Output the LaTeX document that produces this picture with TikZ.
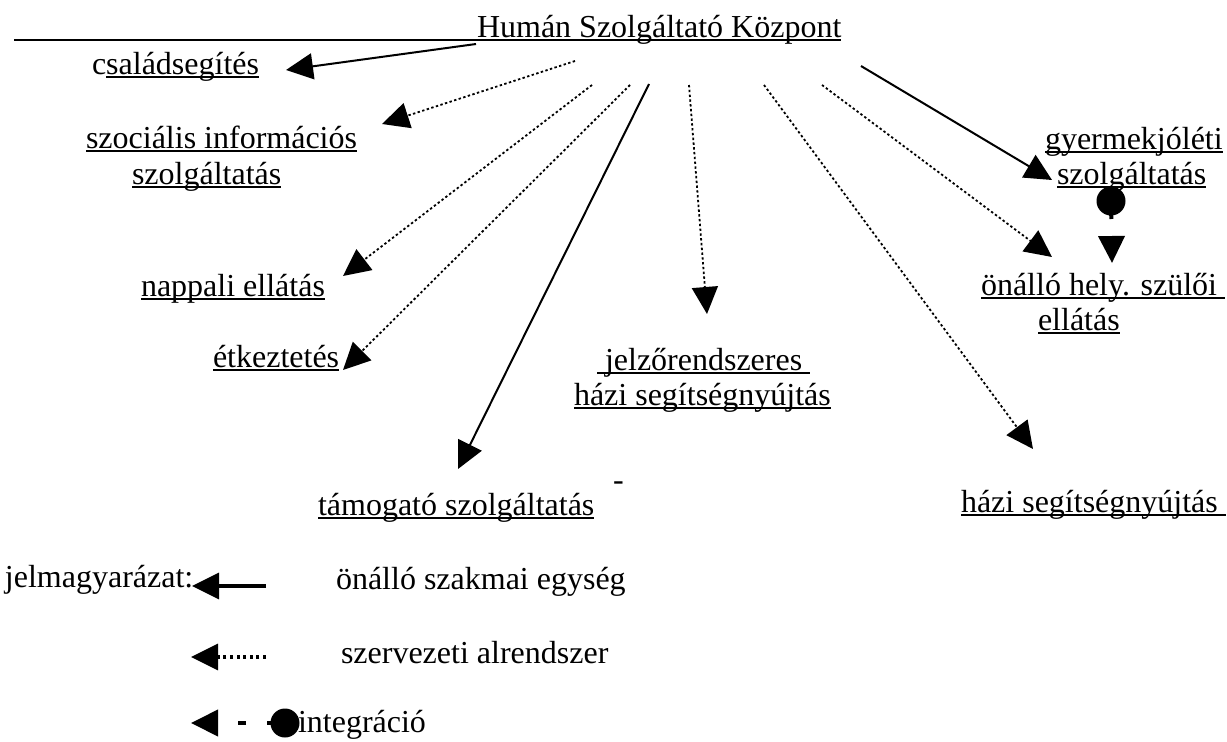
\documentclass[tikz,border=0pt]{standalone}
\usepackage{fontspec}
\setmainfont{Liberation Serif}
\usetikzlibrary{arrows.meta}
\begin{document}
\begin{tikzpicture}[x=1pt,y=-1pt,
  lbl/.style={anchor=base west,inner sep=0pt,outer sep=0pt,font=\fontsize{32}{36}\selectfont},
  ul/.style={line width=1.5pt},
  tri/.style={-{Triangle[length=27pt,width=26pt]}},
  solidarrow/.style={tri,line width=2pt},
  dotarrow/.style={tri,line width=1.8pt,dash pattern=on 2.4pt off 2.4pt},
  legsolid/.style={tri,line width=3.5pt},
  legdot/.style={tri,line width=3.5pt,dash pattern=on 3pt off 3.6pt},
  intarrow/.style={tri,line width=4pt,dash pattern=on 18pt off 21pt on 8pt off 21pt},
  blob/.style={circle,fill=black,inner sep=0pt,minimum size=29pt},
]
\useasboundingbox (0,0) rectangle (1227,742);

% labels
\node[lbl] (hsk) at (477,37) {Humán Szolgáltató Központ};
\node[lbl] (csal) at (92,74) {családsegítés};
\node[lbl] (szoc1) at (86,148) {szociális információs};
\node[lbl] (szoc2) at (132,184) {szolgáltatás};
\node[lbl] (napp) at (141,296) {nappali ellátás};
\node[lbl] (etk) at (213,367) {étkeztetés};
\node[lbl] (tam) at (318,515) {támogató szolgáltatás};
\node[lbl] (jel1) at (605,370) {jelzőrendszeres};
\node[lbl] (jel2) at (574,405) {házi segítségnyújtás};
\node[lbl] (hazi) at (961,512) {házi segítségnyújtás};
\node[lbl] (gy1) at (1045,149) {gyermekjóléti};
\node[lbl] (gy2) at (1057,184) {szolgáltatás};
\node[lbl] (on1) at (981,295) {önálló hely. szülői};
\node[lbl] (on2) at (1038,330) {ellátás};
\node[lbl] (dash) at (613,490) {-};

% underlines
\draw[ul] (14,40) -- ([yshift=-3pt]hsk.base west) -- ([yshift=-3pt]hsk.base east);
\draw[ul] ([xshift=14pt,yshift=-3pt]csal.base west) -- ([yshift=-3pt]csal.base east);
\foreach \n in {szoc1,szoc2,napp,etk,tam,jel2,gy1,gy2,on2}
  \draw[ul] ([yshift=-3pt]\n.base west) -- ([yshift=-3pt]\n.base east);
\draw[ul] ([xshift=-8pt,yshift=-3pt]jel1.base west) -- ([xshift=8pt,yshift=-3pt]jel1.base east);
\draw[ul] ([yshift=-3pt]hazi.base west) -- ([xshift=8pt,yshift=-3pt]hazi.base east);
\draw[ul] ([yshift=-3pt]on1.base west) -- ([xshift=8pt,yshift=-3pt]on1.base east);

% connector end points
\coordinate (sCsal) at (476,44);   \coordinate (tCsal) at (286,70);
\coordinate (sSzoc) at (575,61);   \coordinate (tSzoc) at (382,124);
\coordinate (sNapp) at (592,85);   \coordinate (tNapp) at (343,276);
\coordinate (sEtk)  at (630,85);   \coordinate (tEtk)  at (343,370);
\coordinate (sTam)  at (649,84);   \coordinate (tTam)  at (458,469);
\coordinate (sJel)  at (689,85);   \coordinate (tJel)  at (707,314);
\coordinate (sHazi) at (764,85);   \coordinate (tHazi) at (1033,449);
\coordinate (sOn)   at (822,85);   \coordinate (tOn)   at (1052,257);
\coordinate (sGy)   at (861,66);   \coordinate (tGy)   at (1052,180);
\coordinate (tInt)  at (1112,263);

\draw[solidarrow] (sCsal) -- (tCsal);
\draw[dotarrow] (sSzoc) -- (tSzoc);
\draw[dotarrow] (sNapp) -- (tNapp);
\draw[dotarrow] (sEtk) -- (tEtk);
\draw[solidarrow] (sTam) -- (tTam);
\draw[dotarrow] (sJel) -- (tJel);
\draw[dotarrow] (sHazi) -- (tHazi);
\draw[dotarrow] (sOn) -- (tOn);
\draw[solidarrow] (sGy) -- (tGy);
\node[blob] (b1) at (1111,201) {};
\draw[intarrow] (b1.center) -- (tInt);

% legend
\node[lbl] (leg) at (5,587) {jelmagyarázat:};
\node[lbl] (l1) at (336,589) {önálló szakmai egység};
\node[lbl] (l2) at (341,663) {szervezeti alrendszer};
\node[lbl] (l3) at (298,732) {integráció};
\coordinate (a1s) at (266,586); \coordinate (a1t) at (192,586);
\coordinate (a2s) at (266,657); \coordinate (a2t) at (191,657);
\coordinate (a3t) at (191,723);
\draw[legsolid] (a1s) -- (a1t);
\draw[legdot] (a2s) -- (a2t);
\node[blob] (b2) at (285,723) {};
\draw[intarrow] (b2.center) -- (a3t);
\end{tikzpicture}
\end{document}
